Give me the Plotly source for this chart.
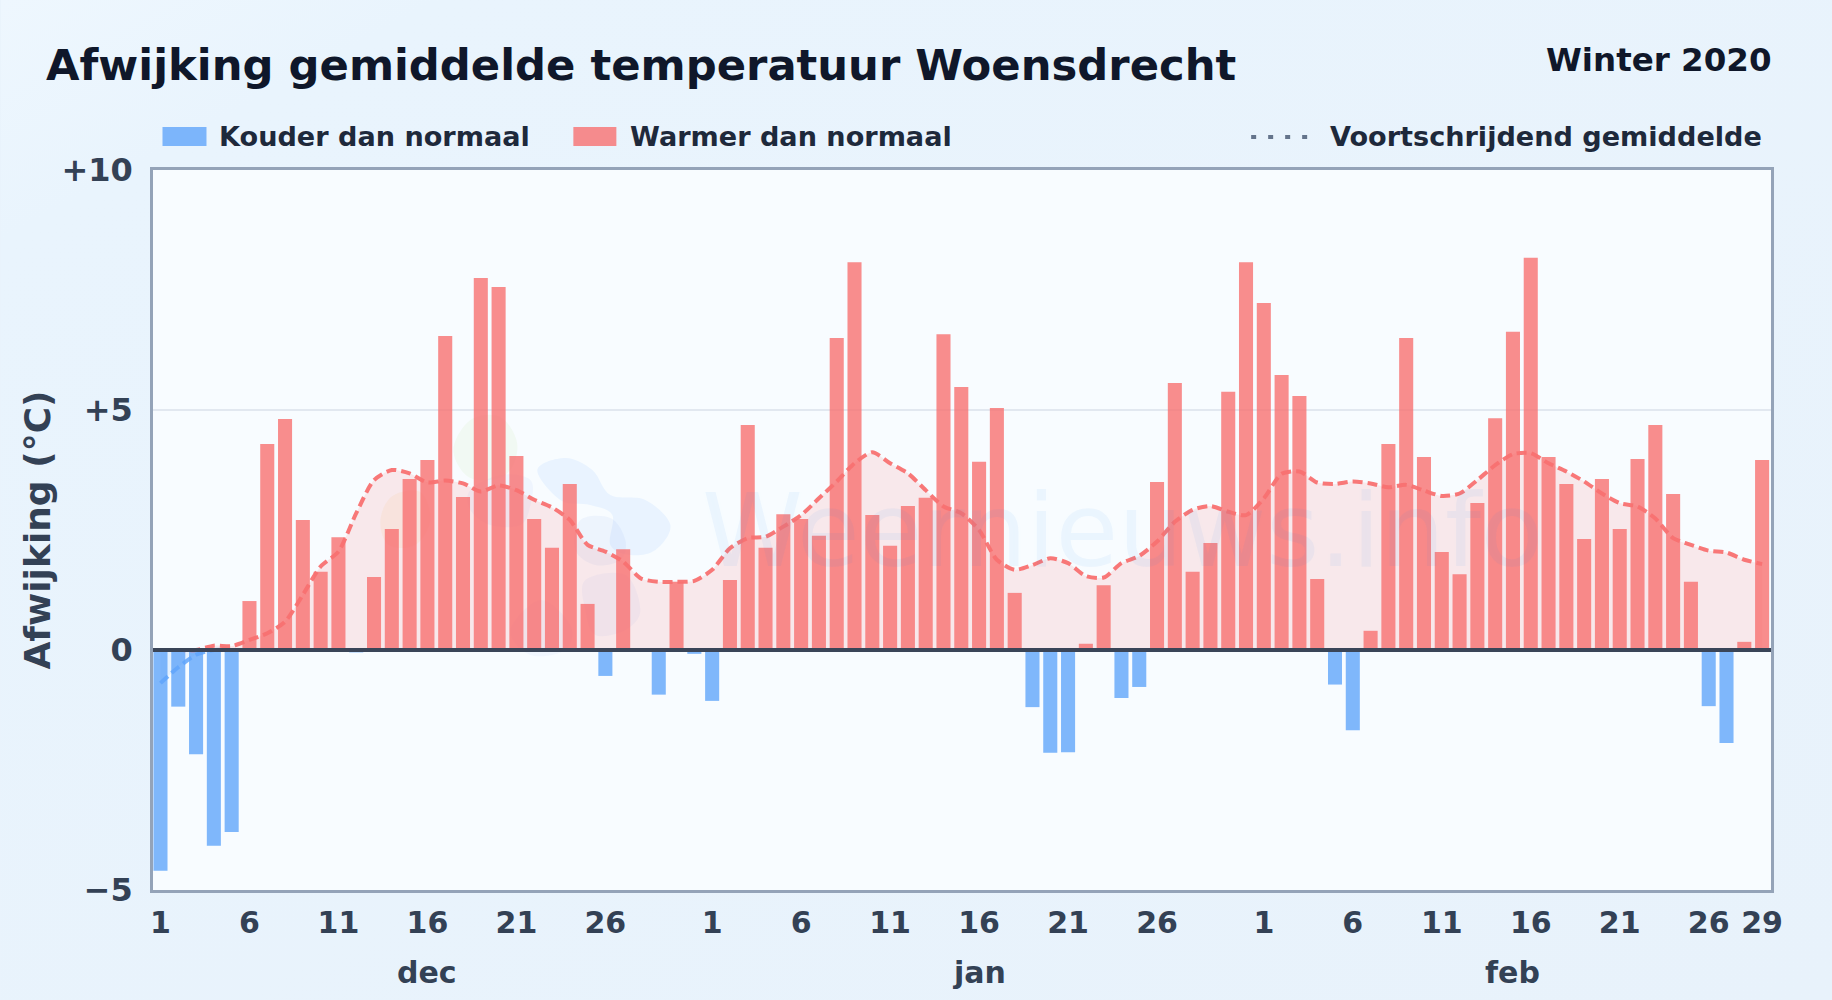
import base64
import plotly.graph_objects as go

# ---- data -----------------------------------------------------------------
deviation = [
    -4.60, -1.18, -2.17, -4.08, -3.79, 1.02, 4.29, 4.81, 2.71, 1.63, 2.35, -0.05, 1.52, 2.52, 3.56, 3.96,
    6.54, 3.19, 7.75, 7.56, 4.04, 2.73, 2.13, 3.46, 0.96, -0.54, 2.10, 0.0, -0.93, 1.42, -0.08,
    -1.06, 1.46, 4.69, 2.13, 2.83, 2.73, 2.38, 6.50, 8.08, 2.81, 2.17, 3.00, 3.17, 6.58, 5.48, 3.92,
    5.04, 1.19, -1.19, -2.14, -2.13, 0.13, 1.35, -1.00, -0.77, 3.50, 5.56, 1.63, 2.23, 5.38, 8.08,
    7.23, 5.73, 5.29, 1.48, -0.72, -1.67, 0.40, 4.29, 6.50, 4.02, 2.04, 1.58, 3.06, 4.83, 6.63, 8.17,
    4.02, 3.46, 2.31, 3.56, 2.52, 3.98, 4.69, 3.25, 1.42, -1.17, -1.94, 0.17, 3.96,
]
moving_avg = [
    -0.69, -0.36, -0.10, 0.09, 0.08, 0.21, 0.35, 0.59, 1.15, 1.74, 2.05, 2.85, 3.54, 3.75, 3.68, 3.49,
    3.53, 3.47, 3.30, 3.43, 3.33, 3.13, 2.97, 2.71, 2.19, 2.05, 1.84, 1.49, 1.42, 1.42, 1.44,
    1.67, 2.12, 2.33, 2.36, 2.57, 2.81, 3.16, 3.51, 3.89, 4.12, 3.89, 3.68, 3.33, 2.99, 2.85, 2.50,
    1.88, 1.67, 1.77, 1.91, 1.81, 1.54, 1.51, 1.81, 1.96, 2.26, 2.67, 2.92, 3.00, 2.88, 2.81,
    3.16, 3.67, 3.72, 3.49, 3.46, 3.51, 3.47, 3.39, 3.44, 3.32, 3.21, 3.26, 3.54, 3.85, 4.08, 4.10,
    3.89, 3.72, 3.51, 3.26, 3.06, 2.99, 2.74, 2.33, 2.19, 2.07, 2.03, 1.88, 1.79,
]
day_index = list(range(len(deviation)))
x_tick_positions = [0, 5, 10, 15, 20, 25, 31, 36, 41, 46, 51, 56, 62, 67, 72, 77, 82, 87, 90]
x_tick_labels = ["1", "6", "11", "16", "21", "26", "1", "6", "11", "16", "21", "26", "1", "6", "11", "16", "21", "26", "29"]
y_tick_values = [-5, 0, 5, 10]
y_tick_labels = ["\u22125", "0", "+5", "+10"]
month_names = ["dec", "jan", "feb"]
month_centres = [15, 46, 76]

# ---- layout geometry (page pixels) ----------------------------------------
W, H = 1832, 1000
L, R, T, B = 152.5, 1771.0, 170.0, 890.0
X_MIN, X_MAX = -0.42, 90.5
Y_MIN, Y_MAX = -5, 10


def fx(p):
    return (p - L) / (R - L)


def fy(p):
    return (B - p) / (B - T)


def dx(p):
    return X_MIN + (p - L) / (R - L) * (X_MAX - X_MIN)


def dy(p):
    return Y_MIN + (B - p) / (B - T) * (Y_MAX - Y_MIN)


INK = "#0f172a"
LEG = "#1e293b"
TICK = "#334155"
FONT = "DejaVu Sans"

warm = [v if v > 0 else None for v in deviation]
cold = [v if v <= 0 else None for v in deviation]
ma_pos = [max(v, 0) for v in moving_avg]
ma_neg = [min(v, 0) for v in moving_avg]

fig = go.Figure()
fig.add_bar(x=day_index, y=cold, width=0.79, name="Kouder dan normaal",
            marker=dict(color="rgba(96,165,250,0.8)", line_width=0))
fig.add_bar(x=day_index, y=warm, width=0.79, name="Warmer dan normaal",
            marker=dict(color="rgba(248,113,113,0.8)", line_width=0))
fig.add_scatter(x=day_index, y=ma_neg, mode="lines", name="Voortschrijdend gemiddelde (koud)",
                line=dict(color="rgba(96,165,250,0.85)", width=4, dash="10px,5px", shape="spline", smoothing=0.7),
                fill="tozeroy", fillcolor="rgba(96,165,250,0.12)")
fig.add_scatter(x=day_index, y=ma_pos, mode="lines", name="Voortschrijdend gemiddelde",
                line=dict(color="rgba(248,113,113,0.95)", width=4, dash="10px,5px", shape="spline", smoothing=0.7),
                fill="tozeroy", fillcolor="rgba(248,113,113,0.14)")


def blob(points, color):
    """Closed smooth path through page-pixel points, expressed in data units."""
    pts = [(dx(a), dy(b)) for a, b in points]
    n = len(pts)
    d = "M %.3f,%.3f" % pts[0]
    for i in range(n):
        p0, p1, p2, p3 = pts[i - 1], pts[i], pts[(i + 1) % n], pts[(i + 2) % n]
        c1 = (p1[0] + (p2[0] - p0[0]) / 6, p1[1] + (p2[1] - p0[1]) / 6)
        c2 = (p2[0] - (p3[0] - p1[0]) / 6, p2[1] - (p3[1] - p1[1]) / 6)
        d += " C %.3f,%.3f %.3f,%.3f %.3f,%.3f" % (*c1, *c2, *p2)
    return dict(type="path", path=d + " Z", xref="x", yref="y", layer="below",
                fillcolor=color, line_width=0)


shapes = [
    # watermark logo
    blob([(453, 450), (470, 420), (500, 417), (517, 445), (505, 475), (470, 478)], "rgba(190,225,140,0.10)"),
    blob([(380, 520), (392, 496), (420, 492), (430, 520), (415, 545), (388, 545)], "rgba(250,205,130,0.13)"),
    blob([(537, 470), (565, 458), (592, 470), (610, 495), (645, 500), (670, 525), (655, 550), (630, 555),
          (610, 545), (612, 515), (590, 505), (560, 500)], "rgba(147,197,253,0.15)"),
    blob([(470, 490), (500, 475), (530, 480), (530, 505), (520, 525), (490, 525), (470, 510)], "rgba(96,140,230,0.06)"),
    blob([(580, 520), (610, 518), (625, 540), (620, 560), (595, 565), (575, 550)], "rgba(96,140,230,0.07)"),
    blob([(585, 580), (625, 575), (640, 610), (625, 630), (595, 635), (585, 610)], "rgba(96,140,230,0.06)"),
    blob([(510, 630), (540, 600), (570, 625), (565, 650), (530, 655)], "rgba(96,140,230,0.05)"),
    # zero line
    dict(type="line", xref="paper", yref="y", x0=0, x1=1, y0=0, y1=0, layer="above",
         line=dict(color="#3a4558", width=4)),
    # legend swatches and dotted sample
    dict(type="rect", xref="paper", yref="paper", x0=fx(162), x1=fx(206), y0=fy(127), y1=fy(146),
         fillcolor="rgba(96,165,250,0.8)", line_width=0),
    dict(type="rect", xref="paper", yref="paper", x0=fx(573), x1=fx(616), y0=fy(127), y1=fy(146),
         fillcolor="rgba(248,113,113,0.8)", line_width=0),
    dict(type="line", xref="paper", yref="paper", x0=fx(1251), x1=fx(1308), y0=fy(137), y1=fy(137),
         line=dict(color="#64748b", width=4, dash="5px,12px")),
]


def text(s, x, y, size, color, anchor="left"):
    return dict(text="<b>%s</b>" % s, xref="paper", yref="paper", x=fx(x), y=fy(y), showarrow=False,
                xanchor=anchor, yanchor="middle", font=dict(family=FONT, size=size, color=color))


WM = "rgba(59,130,246,0.06)"
annotations = [
    text("Winter 2020", 1774, 60, 32.5, INK, "right"),
    text("Kouder dan normaal", 216.5, 137, 27.1, LEG),
    text("Warmer dan normaal", 627.5, 137, 27.1, LEG),
    text("Voortschrijdend gemiddelde", 1328, 137, 27.1, LEG),
    dict(text="Weernieuws.info", xref="paper", yref="paper", x=fx(700), y=fy(530), showarrow=False,
         xanchor="left", yanchor="middle",
         font=dict(family=FONT, size=102, color=WM,
                   shadow="3px 0 0 %s, -3px 0 0 %s" % (WM, WM))),
]
for name, centre in zip(month_names, month_centres):
    annotations.append(dict(text="<b>%s</b>" % name, xref="x", yref="paper", x=centre, y=fy(972), showarrow=False,
                            xanchor="center", yanchor="middle", font=dict(family=FONT, size=30, color=TICK)))

# page gradient with a transparent window over the plot area
gradient = ('<svg xmlns="http://www.w3.org/2000/svg" width="1832" height="1000" preserveAspectRatio="none">'
            '<defs><linearGradient id="g" x1="0" y1="0" x2="1" y2="1">'
            '<stop offset="0" stop-color="#eef7fe"/><stop offset="0.12" stop-color="#e9f4fd"/>'
            '<stop offset="1" stop-color="#e8f2fb"/></linearGradient></defs>'
            '<path fill-rule="evenodd" fill="url(#g)" d="M0 0H1832V1000H0Z M%g %gV%gH%gV%gZ"/></svg>'
            % (L, T, B, R, T))
bg_uri = "data:image/svg+xml;base64," + base64.b64encode(gradient.encode()).decode()

fig.update_layout(
    width=W, height=H, barmode="overlay", showlegend=False,
    margin=dict(l=L, r=W - R, t=T, b=H - B, pad=0),
    paper_bgcolor="#e9f3fc", plot_bgcolor="#f8fcff",
    font=dict(family=FONT),
    title=dict(text="<b>Afwijking gemiddelde temperatuur Woensdrecht</b>", x=46 / W, xanchor="left",
               y=1 - 65 / H, yanchor="middle", font=dict(family=FONT, size=43.3, color=INK)),
    images=[dict(source=bg_uri, xref="paper", yref="paper", x=fx(0), y=fy(0),
                 sizex=fx(W) - fx(0), sizey=fy(0) - fy(H), sizing="stretch",
                 xanchor="left", yanchor="top", layer="below")],
    shapes=shapes, annotations=annotations,
    xaxis=dict(range=[X_MIN, X_MAX], tickmode="array", tickvals=x_tick_positions, ticktext=x_tick_labels,
               tickfont=dict(family=FONT, size=30, color=TICK, weight="bold"), showgrid=False, zeroline=False, ticks="",
               showline=True, linecolor="#94a3b8", linewidth=2.5, mirror=True, ticklabelstandoff=4),
    yaxis=dict(range=[Y_MIN, Y_MAX], tickmode="array", tickvals=y_tick_values, ticktext=y_tick_labels,
               tickfont=dict(family=FONT, size=32, color=TICK, weight="bold"), gridcolor="#e2e8f0", gridwidth=2, zeroline=False,
               ticks="", showline=True, linecolor="#94a3b8", linewidth=2.5, mirror=True, ticklabelstandoff=11,
               title=dict(text="<b>Afwijking (\u00b0C)</b>", standoff=0, font=dict(family=FONT, size=36, color=TICK))),
)

fig.write_html("out.html", config=dict(displayModeBar=False), post_script="document.body.style.margin='0';")
